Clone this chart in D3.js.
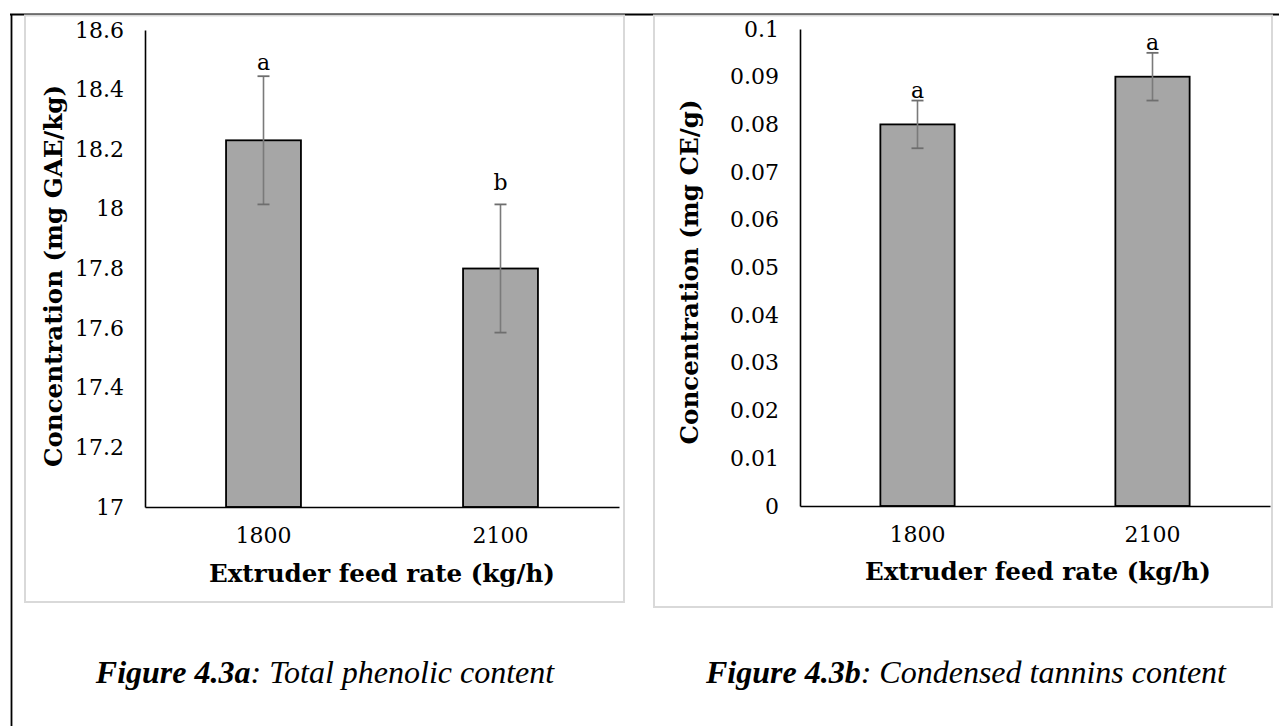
<!DOCTYPE html>
<html>
<head>
<meta charset="utf-8">
<script src="https://cdn.jsdelivr.net/npm/d3@7"></script>
<style>
  html, body { margin: 0; padding: 0; background: #fff; }
  svg { display: block; }
</style>
</head>
<body>
<svg id="fig" width="1279" height="726"></svg>
<script>
// Extruder feed rates (x categories)
const feedRates = ["1800", "2100"];

// Figure 4.3a — total phenolic content (mg GAE/kg)
const phenolicMean = [18.23, 17.80];
const phenolicErr = [0.215, 0.215];
const phenolicLetters = ["a", "b"];
const phenolicLetterAt = [18.466, 18.063];
const phenolicTicks = [17, 17.2, 17.4, 17.6, 17.8, 18, 18.2, 18.4, 18.6];

// Figure 4.3b — condensed tannins content (mg CE/g)
const tanninMean = [0.08, 0.09];
const tanninErr = [0.005, 0.005];
const tanninLetters = ["a", "a"];
const tanninLetterAt = [0.0856, 0.0956];
const tanninTicks = [0, 0.01, 0.02, 0.03, 0.04, 0.05, 0.06, 0.07, 0.08, 0.09, 0.1];

const svg = d3.select("#fig");
const SERIF = "'DejaVu Serif', serif";
const TIMES = "'Liberation Serif', 'Times New Roman', serif";

// outer page border (top and left rules)
svg.append("line").attr("x1", 10).attr("x2", 1279).attr("y1", 14.5).attr("y2", 14.5)
  .attr("stroke", "#000").attr("stroke-width", 1.8);
svg.append("line").attr("x1", 11.5).attr("x2", 11.5).attr("y1", 14).attr("y2", 726)
  .attr("stroke", "#000").attr("stroke-width", 1.8);

function drawPanel(p) {
  const g = svg.append("g");

  // chart area frame
  g.append("rect")
    .attr("x", p.frame[0]).attr("y", p.frame[1])
    .attr("width", p.frame[2]).attr("height", p.frame[3])
    .attr("fill", "#fff").attr("stroke", "#d9d9d9").attr("stroke-width", 2);

  const x = d3.scaleBand().domain(feedRates)
    .range([p.plot.left, p.plot.right])
    .paddingInner(0.684).paddingOuter(0.342);
  const y = d3.scaleLinear().domain(p.domain).range([p.plot.bottom, p.plot.top]);

  // bars
  g.selectAll("rect.bar").data(feedRates).join("rect")
    .attr("class", "bar")
    .attr("x", d => x(d))
    .attr("width", x.bandwidth())
    .attr("y", (d, i) => y(p.mean[i]))
    .attr("height", (d, i) => y(p.domain[0]) - y(p.mean[i]))
    .attr("fill", "#a6a6a6").attr("stroke", "#000").attr("stroke-width", 1.8);

  // error bars
  const eb = g.selectAll("g.err").data(feedRates).join("g").attr("class", "err");
  const cx = d => x(d) + x.bandwidth() / 2;
  eb.append("line")
    .attr("x1", cx).attr("x2", cx)
    .attr("y1", (d, i) => y(p.mean[i] + p.err[i]))
    .attr("y2", (d, i) => y(p.mean[i] - p.err[i]))
    .attr("stroke", "#7a7a7a").attr("stroke-width", 1.6);
  [1, -1].forEach(s => {
    eb.append("line")
      .attr("x1", d => cx(d) - 6).attr("x2", d => cx(d) + 6)
      .attr("y1", (d, i) => y(p.mean[i] + s * p.err[i]))
      .attr("y2", (d, i) => y(p.mean[i] + s * p.err[i]))
      .attr("stroke", "#6e6e6e").attr("stroke-width", 1.8);
  });

  // significance letters
  g.selectAll("text.sig").data(feedRates).join("text")
    .attr("class", "sig")
    .attr("x", cx)
    .attr("y", (d, i) => y(p.letterAt[i]))
    .attr("text-anchor", "middle")
    .attr("font-family", SERIF).attr("font-size", 22)
    .text((d, i) => p.letters[i]);

  // y axis
  const yAxis = g.append("g")
    .attr("transform", `translate(${p.plot.left},0)`)
    .call(d3.axisLeft(y).tickValues(p.ticks).tickFormat(d3.format("~g"))
      .tickSize(0).tickPadding(21));
  yAxis.select(".domain").attr("stroke", "#000").attr("stroke-width", 1.6);
  yAxis.selectAll("text").attr("font-family", SERIF).attr("font-size", 22)
    .attr("fill", "#000");

  // x axis
  const xAxis = g.append("g")
    .attr("transform", `translate(0,${p.plot.bottom})`)
    .call(d3.axisBottom(x).tickSize(0).tickPadding(20));
  xAxis.select(".domain").attr("stroke", "#000").attr("stroke-width", 1.6);
  xAxis.selectAll("text").attr("font-family", SERIF).attr("font-size", 22)
    .attr("fill", "#000");

  // axis titles
  g.append("text")
    .attr("x", p.xTitle[0]).attr("y", p.xTitle[1])
    .attr("text-anchor", "middle")
    .attr("font-family", SERIF).attr("font-weight", "bold").attr("font-size", 24.5)
    .attr("textLength", p.xTitle[2]).attr("lengthAdjust", "spacingAndGlyphs")
    .text("Extruder feed rate (kg/h)");
  g.append("text")
    .attr("transform", `translate(${p.yTitle[0]},${p.yTitle[1]}) rotate(-90)`)
    .attr("text-anchor", "middle")
    .attr("font-family", SERIF).attr("font-weight", "bold").attr("font-size", 24.5)
    .attr("textLength", p.yTitle[2]).attr("lengthAdjust", "spacingAndGlyphs")
    .text(p.yLabel);

  // caption below the chart
  const cap = svg.append("text")
    .attr("x", p.caption[0]).attr("y", p.caption[1])
    .attr("text-anchor", "middle")
    .attr("font-family", TIMES).attr("font-style", "italic").attr("font-size", 32);
  cap.append("tspan").attr("font-weight", "bold").text(p.captionBold);
  cap.append("tspan").text(p.captionRest);
}

drawPanel({
  frame: [25, 15.5, 599, 586.5],
  plot: { left: 145, right: 619, top: 30, bottom: 507 },
  domain: [17, 18.6],
  ticks: phenolicTicks,
  mean: phenolicMean, err: phenolicErr,
  letters: phenolicLetters, letterAt: phenolicLetterAt,
  xTitle: [382, 582, 346],
  yTitle: [62, 276, 382],
  yLabel: "Concentration (mg GAE/kg)",
  caption: [325, 683],
  captionBold: "Figure 4.3a",
  captionRest: ": Total phenolic content"
});

drawPanel({
  frame: [654, 15.5, 618, 591.5],
  plot: { left: 800, right: 1270, top: 29, bottom: 506 },
  domain: [0, 0.1],
  ticks: tanninTicks,
  mean: tanninMean, err: tanninErr,
  letters: tanninLetters, letterAt: tanninLetterAt,
  xTitle: [1038, 580, 346],
  yTitle: [698, 272, 345],
  yLabel: "Concentration (mg CE/g)",
  caption: [966, 683],
  captionBold: "Figure 4.3b",
  captionRest: ": Condensed tannins content"
});
</script>
</body>
</html>
